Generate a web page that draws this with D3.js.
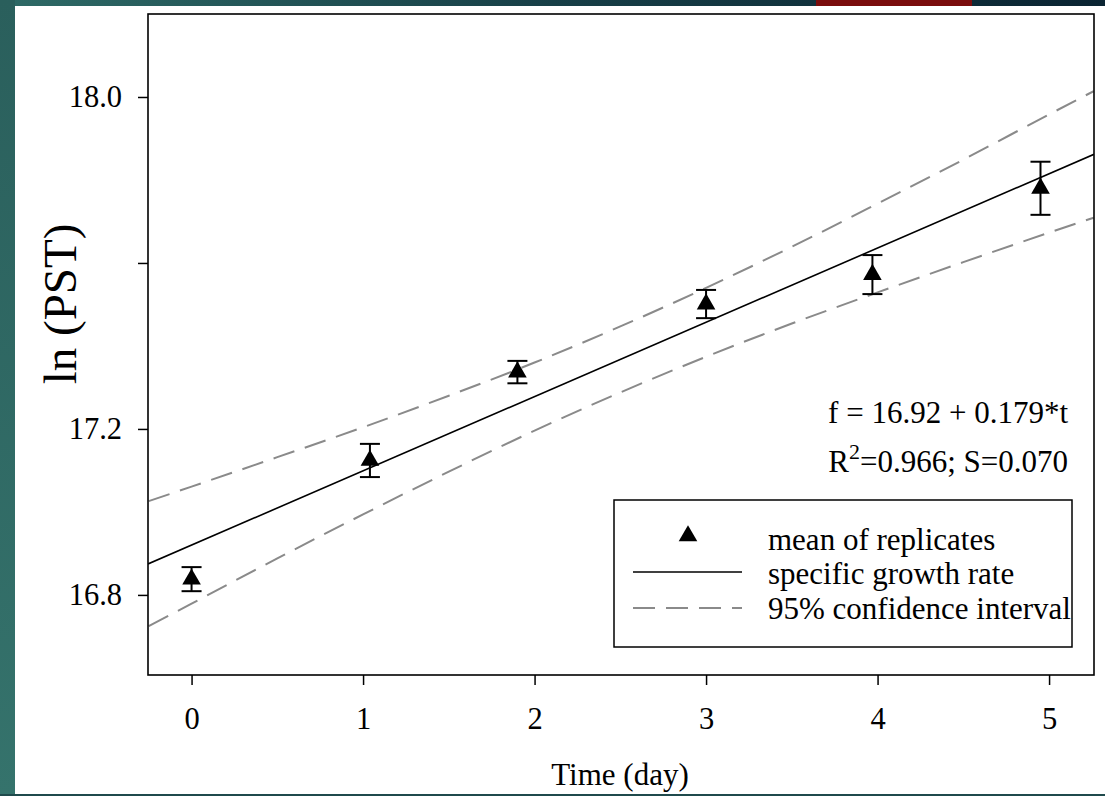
<!DOCTYPE html>
<html><head><meta charset="utf-8">
<script src="https://cdn.jsdelivr.net/npm/d3@7"></script>
<style>
html,body{margin:0;padding:0;background:#fff;}
svg{display:block;}
text{font-family:"Liberation Serif","Times New Roman",serif;fill:#000;}
</style></head>
<body>
<svg id="chart" width="1105" height="796"></svg>
<script>
// ---- data ----
const days      = [0, 1.04, 1.9, 3, 3.97, 4.95];
const lnPST     = [16.838, 17.124, 17.337, 17.501, 17.572, 17.780];
const errPST    = [0.029, 0.040, 0.027, 0.034, 0.047, 0.064];
const fitIntercept = 16.92;
const fitSlope     = 0.179;
const ciT     = [-0.25, 0, 0.5, 1, 1.5, 2, 2.5, 3, 3.5, 4, 4.5, 5, 5.26];
const ciUpper = [17.026, 17.061, 17.132, 17.204, 17.280, 17.360, 17.447, 17.540, 17.639, 17.743, 17.849, 17.958, 18.014];
const ciLower = [16.725, 16.779, 16.888, 16.994, 17.097, 17.196, 17.288, 17.374, 17.454, 17.529, 17.602, 17.673, 17.709];
const xTicks  = [0, 1, 2, 3, 4, 5];
const yTicks  = [16.8, 17.2, 17.6, 18.0];
const yTickLabels = ["16.8", "17.2", "", "18.0"];
const legendLabels = ["mean of replicates", "specific growth rate", "95% confidence interval"];
const eqLine1 = "f = 16.92 + 0.179*t";
const eqLine2 = ["R", "2", "=0.966; S=0.070"];

// ---- layout ----
const svg = d3.select("#chart");
const L = 148, R = 1094, T = 14, B = 675;
const x = d3.scaleLinear().domain([-0.254, 5.262]).range([L, R]);
const y = d3.scaleLinear().domain([16.607, 18.2]).range([B, T]);
const FONT = '"Liberation Serif","Times New Roman",serif';

// slide background decoration
const defs = svg.append("defs");
const gTop = defs.append("linearGradient").attr("id","gtop").attr("x1","0").attr("x2","1");
gTop.append("stop").attr("offset","0").attr("stop-color","#2e6a66");
gTop.append("stop").attr("offset","0.5").attr("stop-color","#173f47");
gTop.append("stop").attr("offset","1").attr("stop-color","#0a2432");
const gLeft = defs.append("linearGradient").attr("id","gleft").attr("x1","0").attr("x2","0").attr("y1","0").attr("y2","1");
gLeft.append("stop").attr("offset","0").attr("stop-color","#2a5f5c");
gLeft.append("stop").attr("offset","1").attr("stop-color","#35736c");
svg.append("rect").attr("x",0).attr("y",0).attr("width",1105).attr("height",796).attr("fill","#fff");
svg.append("rect").attr("x",0).attr("y",0).attr("width",1105).attr("height",6).attr("fill","url(#gtop)");
svg.append("rect").attr("x",816).attr("y",0).attr("width",156).attr("height",6).attr("fill","#7a0d0d");
svg.append("rect").attr("x",0).attr("y",0).attr("width",15).attr("height",796).attr("fill","url(#gleft)");
svg.append("rect").attr("x",0).attr("y",794).attr("width",1105).attr("height",2).attr("fill","#1f4a4c");

defs.append("clipPath").attr("id","clip").append("rect")
  .attr("x",L).attr("y",T).attr("width",R-L).attr("height",B-T);

const plot = svg.append("g").attr("clip-path","url(#clip)");

// CI dashed curves
const ciLine = d3.line().x(d=>x(d[0])).y(d=>y(d[1])).curve(d3.curveMonotoneX);
[ciUpper, ciLower].forEach(arr=>{
  plot.append("path").datum(ciT.map((t,i)=>[t,arr[i]]))
    .attr("d",ciLine).attr("fill","none").attr("stroke","#8a8a8a")
    .attr("stroke-width",2).attr("stroke-dasharray","22,11");
});

// regression line
const xd = x.domain();
plot.append("line")
  .attr("x1",x(xd[0])).attr("y1",y(fitIntercept+fitSlope*xd[0]))
  .attr("x2",x(xd[1])).attr("y2",y(fitIntercept+fitSlope*xd[1]))
  .attr("stroke","#000").attr("stroke-width",1.6);

// error bars
const pts = days.map((d,i)=>({t:d,v:lnPST[i],e:errPST[i]}));
const eb = plot.append("g").attr("stroke","#000").attr("stroke-width",2);
pts.forEach(p=>{
  const cx=x(p.t);
  eb.append("line").attr("x1",cx).attr("x2",cx).attr("y1",y(p.v+p.e)).attr("y2",y(p.v-p.e));
  eb.append("line").attr("x1",cx-10).attr("x2",cx+10).attr("y1",y(p.v+p.e)).attr("y2",y(p.v+p.e));
  eb.append("line").attr("x1",cx-10).attr("x2",cx+10).attr("y1",y(p.v-p.e)).attr("y2",y(p.v-p.e));
});
const tri = d3.symbol().type(d3.symbolTriangle).size(150);
plot.selectAll("path.pt").data(pts).enter().append("path").attr("class","pt")
  .attr("d",tri).attr("transform",p=>`translate(${x(p.t)},${y(p.v)})`).attr("fill","#000");

// axes
const yAxis = d3.axisLeft(y).tickValues(yTicks).tickSize(10).tickSizeOuter(0).tickPadding(16)
  .tickFormat((d,i)=>yTickLabels[i]);
const gy = svg.append("g").attr("transform",`translate(${L},0)`).call(yAxis);
gy.select(".domain").remove();
gy.selectAll("text").attr("font-size",30.5).attr("font-family",FONT).attr("fill","#000");
gy.selectAll("line").attr("stroke","#000").attr("stroke-width",1.5);

const xAxis = d3.axisBottom(x).tickValues(xTicks).tickSize(10).tickSizeOuter(0).tickPadding(22)
  .tickFormat(d3.format("d"));
const gx = svg.append("g").attr("transform",`translate(0,${B})`).call(xAxis);
gx.select(".domain").remove();
gx.selectAll("text").attr("font-size",30.5).attr("font-family",FONT).attr("fill","#000");
gx.selectAll("line").attr("stroke","#000").attr("stroke-width",1.5);

// frame
svg.append("rect").attr("x",L).attr("y",T).attr("width",R-L).attr("height",B-T)
  .attr("fill","none").attr("stroke","#000").attr("stroke-width",1.6);

// axis titles
svg.append("text").attr("transform","translate(76,304) rotate(-90)")
  .attr("text-anchor","middle").attr("font-size",47).text("ln (PST)");
svg.append("text").attr("x",620).attr("y",785).attr("text-anchor","middle")
  .attr("font-size",31).text("Time (day)");

// equation
svg.append("text").attr("x",1068).attr("y",423).attr("text-anchor","end")
  .attr("font-size",31).text(eqLine1);
const t2 = svg.append("text").attr("x",1068).attr("y",472).attr("text-anchor","end").attr("font-size",31);
t2.append("tspan").text(eqLine2[0]);
t2.append("tspan").attr("dy",-13).attr("font-size",22).text(eqLine2[1]);
t2.append("tspan").attr("dy",13).text(eqLine2[2]);

// legend
const lg = svg.append("g");
lg.append("rect").attr("x",614).attr("y",500).attr("width",458).attr("height",147)
  .attr("fill","#fff").attr("stroke","#000").attr("stroke-width",1.5);
lg.append("path").attr("d",tri).attr("transform","translate(688,536)").attr("fill","#000");
lg.append("line").attr("x1",633).attr("x2",742).attr("y1",572).attr("y2",572)
  .attr("stroke","#000").attr("stroke-width",1.6);
lg.append("line").attr("x1",633).attr("x2",742).attr("y1",608).attr("y2",608)
  .attr("stroke","#8a8a8a").attr("stroke-width",2).attr("stroke-dasharray","22,11");
const lgY = [550, 584, 619];
legendLabels.forEach((s,i)=>{
  lg.append("text").attr("x",768).attr("y",lgY[i]).attr("font-size",31).text(s);
});
</script>
</body></html>
